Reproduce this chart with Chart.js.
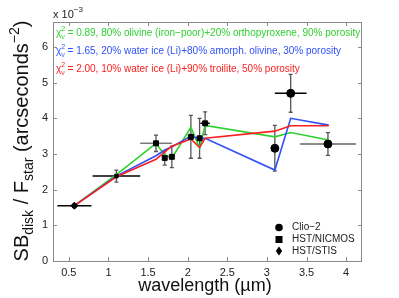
<!DOCTYPE html>
<html><head><meta charset="utf-8">
<script src="https://cdn.jsdelivr.net/npm/chart.js@4.4.1/dist/chart.umd.min.js"></script>
<style>html,body{margin:0;padding:0;background:#fff}</style>
</head><body>
<canvas id="c" width="399" height="298" style="width:399px;height:298px"></canvas>
<script>
// ---- data (surface brightness in units of 1e-3 arcsec^-2) ----
const xTicks = [0.5, 1, 1.5, 2, 2.5, 3, 3.5, 4];
const yTicks = [0, 1, 2, 3, 4, 5, 6];

const clioX    = [3.10, 3.30, 3.77];
const clioY    = [3.16, 4.70, 3.28];
const clioXErr = [0, 0.20, 0.355];
const clioYErr = [0.64, 0.53, 0.32];

const nicmosX    = [1.10, 1.60, 1.71, 1.80, 2.04, 2.15, 2.22];
const nicmosY    = [2.38, 3.30, 2.89, 2.92, 3.48, 3.44, 3.86];
const nicmosXErr = [0.30, 0.20, 0, 0, 0, 0, 0.06];
const nicmosYErr = [0.17, 0.23, 0.20, 0.30, 0.60, 0.56, 0.32];

const stisX    = [0.57];
const stisY    = [1.55];
const stisXErr = [0.215];
const stisYErr = [0.05];

const modelX     = [0.57, 1.10, 1.60, 1.71, 1.80, 2.04, 2.15, 2.22, 3.10, 3.30, 3.78];
const modelGreen = [1.55, 2.42, 3.30, 2.97, 2.88, 3.75, 3.17, 3.80, 3.48, 3.60, 3.39];
const modelBlue  = [1.55, 2.38, 2.95, 3.11, 3.20, 3.50, 3.43, 3.44, 2.55, 4.00, 3.81];
const modelRed   = [1.55, 2.36, 2.85, 3.06, 3.22, 3.42, 3.18, 3.44, 3.64, 3.79, 3.79];

const labelGreen = "= 0.89, 80% olivine (iron\u2212poor)+20% orthopyroxene, 90% porosity";
const labelBlue  = "= 1.65, 20% water ice (Li)+80% amorph. olivine, 30% porosity";
const labelRed   = "= 2.00, 10% water ice (Li)+90% troilite, 50% porosity";
const legendNames = ["Clio\u22122", "HST/NICMOS", "HST/STIS"];

const GREEN = "#2fd02f", BLUE = "#3050f8", RED = "#f82020";
const FONT = '"Liberation Sans", Arial, Helvetica, sans-serif';

const pts = (xs, ys) => xs.map((x, i) => ({x: x, y: ys[i]}));

function richWidth(ctx, parts) {
  let w = 0;
  for (const p of parts) { ctx.font = p.size + "px " + FONT; if (!p.noAdvance) w += ctx.measureText(p.text).width; }
  return w;
}
function drawRich(ctx, x, y, parts, color) {
  let cx = x;
  ctx.fillStyle = color;
  ctx.textBaseline = "alphabetic";
  ctx.textAlign = "left";
  for (const p of parts) {
    ctx.font = p.size + "px " + FONT;
    ctx.fillText(p.text, cx, y + (p.dy || 0));
    if (!p.noAdvance) cx += ctx.measureText(p.text).width;
  }
  return cx;
}

const errPlugin = {
  id: "errbars",
  beforeDatasetsDraw(chart) {
    const ctx = chart.ctx, xs = chart.scales.x, ys = chart.scales.y;
    ctx.save();
    chart.data.datasets.forEach(ds => {
      if (!ds.xErr) return;
      ds.data.forEach((p, i) => {
        const px = xs.getPixelForValue(p.x), py = ys.getPixelForValue(p.y);
        const ye = ds.yErr[i], xe = ds.xErr[i];
        if (ye) {
          ctx.strokeStyle = "#555"; ctx.lineWidth = 1.3;
          const y1 = ys.getPixelForValue(p.y + ye), y2 = ys.getPixelForValue(p.y - ye);
          ctx.beginPath(); ctx.moveTo(px, y1); ctx.lineTo(px, y2);
          ctx.moveTo(px - 2, y1); ctx.lineTo(px + 2, y1);
          ctx.moveTo(px - 2, y2); ctx.lineTo(px + 2, y2);
          ctx.stroke();
        }
        if (xe) {
          ctx.strokeStyle = ds.xErrColor[i]; ctx.lineWidth = 1.5;
          ctx.beginPath();
          ctx.moveTo(xs.getPixelForValue(p.x - xe), py);
          ctx.lineTo(xs.getPixelForValue(p.x + xe), py);
          ctx.stroke();
        }
      });
    });
    ctx.restore();
  },
  afterDraw(chart) {
    const ctx = chart.ctx, a = chart.chartArea, xs = chart.scales.x, ys = chart.scales.y;
    ctx.save();
    // box
    ctx.strokeStyle = "#8a8a8a"; ctx.lineWidth = 1;
    ctx.strokeRect(a.left + 0.5, a.top + 0.5, a.right - a.left - 1, a.bottom - a.top);
    // inward ticks
    ctx.beginPath();
    xTicks.forEach(v => {
      const px = Math.round(xs.getPixelForValue(v)) + 0.5;
      ctx.moveTo(px, a.bottom); ctx.lineTo(px, a.bottom - 4);
      ctx.moveTo(px, a.top); ctx.lineTo(px, a.top + 4);
    });
    yTicks.forEach(v => {
      const py = Math.round(ys.getPixelForValue(v)) + 0.5;
      ctx.moveTo(a.left, py); ctx.lineTo(a.left + 4, py);
      ctx.moveTo(a.right, py); ctx.lineTo(a.right - 4, py);
    });
    ctx.stroke();

    // exponent label
    drawRich(ctx, a.left, 18, [{text: "x 10", size: 11}, {text: "\u22123", size: 8, dy: -6}], "#222");

    // model labels
    const chi = [{text: "\u03C7", size: 10}, {text: "2", size: 7, dy: -5, noAdvance: true}, {text: "\u03BD", size: 7, dy: 3}, {text: " ", size: 10}];
    [[labelGreen, GREEN, 35.5], [labelBlue, BLUE, 53.5], [labelRed, RED, 71.5]].forEach(([t, c, y]) => {
      drawRich(ctx, a.left + 3, y, chi.concat([{text: t, size: 10}]), c);
    });

    // legend
    const lx = 279, ly = [227.5, 239.5, 251];
    ctx.fillStyle = "#000";
    ctx.beginPath(); ctx.arc(lx, ly[0], 3.8, 0, Math.PI * 2); ctx.fill();
    ctx.fillRect(lx - 3.5, ly[1] - 3.5, 7, 7);
    ctx.beginPath(); ctx.moveTo(lx, ly[2] - 4.5); ctx.lineTo(lx + 3.2, ly[2]); ctx.lineTo(lx, ly[2] + 4.5); ctx.lineTo(lx - 3.2, ly[2]); ctx.closePath(); ctx.fill();
    ctx.font = "10px " + FONT; ctx.textBaseline = "middle"; ctx.textAlign = "left"; ctx.fillStyle = "#222";
    legendNames.forEach((n, i) => ctx.fillText(n, 292, ly[i]));

    // x label
    ctx.font = "18px " + FONT; ctx.textAlign = "center"; ctx.textBaseline = "alphabetic"; ctx.fillStyle = "#111";
    ctx.fillText("wavelength (\u00B5m)", 205, 291);

    // y label (rotated)
    const yparts = [
      {text: "SB", size: 20}, {text: "disk", size: 14, dy: 5},
      {text: " / F", size: 20}, {text: "star", size: 14, dy: 5},
      {text: " (arcseconds", size: 20}, {text: "\u22122", size: 14, dy: -9},
      {text: ")", size: 20}
    ];
    const w = richWidth(ctx, yparts);
    ctx.translate(28, 141);
    ctx.rotate(-Math.PI / 2);
    drawRich(ctx, -w / 2, 0, yparts, "#111");
    ctx.restore();
  }
};

new Chart(document.getElementById("c"), {
  type: "scatter",
  data: {
    datasets: [
      {label: "green", data: pts(modelX, modelGreen), showLine: true, borderColor: GREEN, borderWidth: 1.6, pointRadius: 0, order: 3},
      {label: "blue",  data: pts(modelX, modelBlue),  showLine: true, borderColor: BLUE,  borderWidth: 1.6, pointRadius: 0, order: 2},
      {label: "red",   data: pts(modelX, modelRed),   showLine: true, borderColor: RED,   borderWidth: 1.6, pointRadius: 0, order: 1},
      {label: legendNames[0], data: pts(clioX, clioY), xErr: clioXErr, yErr: clioYErr,
        xErrColor: ["#000", "#000", "#666"], pointStyle: "circle", pointRadius: 4, backgroundColor: "#000", borderColor: "#000", order: 0},
      {label: legendNames[1], data: pts(nicmosX, nicmosY), xErr: nicmosXErr, yErr: nicmosYErr,
        xErrColor: ["#000", "#777", "#000", "#000", "#000", "#000", "#000"], pointStyle: "rect", pointRadius: [2.5, 3.5, 3.5, 3.5, 3.5, 3.5, 3.5], backgroundColor: "#000", borderColor: "#000", order: 0},
      {label: legendNames[2], data: pts(stisX, stisY), xErr: stisXErr, yErr: stisYErr,
        xErrColor: ["#000"], pointStyle: "rectRot", pointRadius: 3.5, backgroundColor: "#000", borderColor: "#000", order: 0}
    ]
  },
  options: {
    responsive: false, devicePixelRatio: 1, animation: false,
    layout: {padding: {top: 22, right: 37, left: 0, bottom: 0}},
    plugins: {legend: {display: false}, tooltip: {enabled: false}},
    scales: {
      x: {
        type: "linear", min: 0.3, max: 4.2,
        afterBuildTicks: s => { s.ticks = xTicks.map(v => ({value: v})); },
        afterFit: s => { s.height = 37; },
        grid: {display: false, drawTicks: false, tickLength: 0}, border: {display: false},
        ticks: {font: {size: 11, family: FONT}, color: "#222", padding: 5, maxRotation: 0,
                callback: v => String(v)}
      },
      y: {
        type: "linear", min: 0, max: 6.7,
        afterBuildTicks: s => { s.ticks = yTicks.map(v => ({value: v})); },
        afterFit: s => { s.width = 53; },
        grid: {display: false, drawTicks: false, tickLength: 0}, border: {display: false},
        ticks: {font: {size: 11, family: FONT}, color: "#222", padding: 5,
                callback: v => String(v)}
      }
    }
  },
  plugins: [errPlugin]
});
</script>
</body></html>
